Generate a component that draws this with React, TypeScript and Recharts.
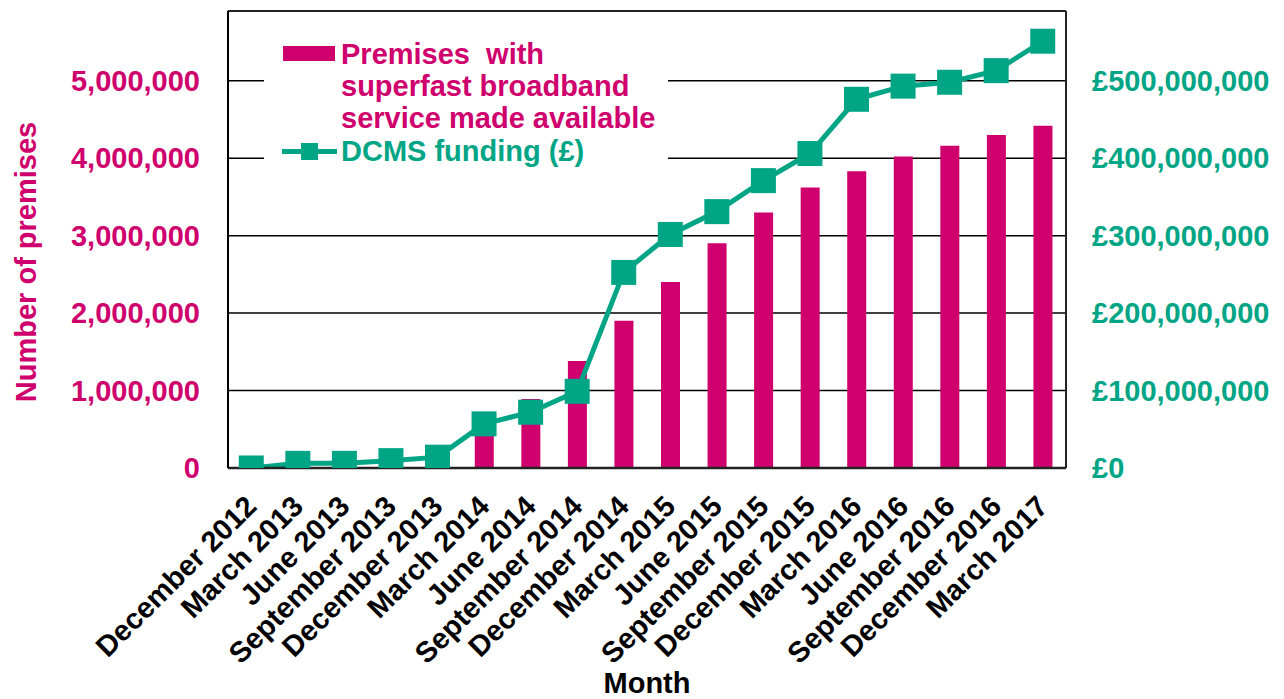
import React from 'react';
import {
  ComposedChart,
  Bar,
  Line,
  XAxis,
  YAxis,
  CartesianGrid,
  Legend,
  ReferenceLine,
} from 'recharts';

const months = [
  'December 2012',
  'March 2013',
  'June 2013',
  'September 2013',
  'December 2013',
  'March 2014',
  'June 2014',
  'September 2014',
  'December 2014',
  'March 2015',
  'June 2015',
  'September 2015',
  'December 2015',
  'March 2016',
  'June 2016',
  'September 2016',
  'December 2016',
  'March 2017',
];

const premises = [
  0, 0, 0, 40000, 150000, 550000, 890000, 1380000, 1900000, 2400000, 2900000,
  3300000, 3620000, 3830000, 4020000, 4160000, 4300000, 4420000,
];

const funding = [
  0, 6000000, 6000000, 9500000, 14000000, 57000000, 72000000, 99000000,
  252500000, 301500000, 331000000, 371000000, 406000000, 476000000, 493000000,
  498000000, 513000000, 551000000,
];

const leftTicks = [0, 1000000, 2000000, 3000000, 4000000, 5000000];
const rightTicks = [0, 100000000, 200000000, 300000000, 400000000, 500000000];

const MAGENTA = '#CF006E';
const GREEN = '#00A585';
const FONT = '"Liberation Sans", Arial, Helvetica, sans-serif';

const data = months.map((m, i) => ({
  month: m,
  premises: premises[i],
  funding: funding[i],
}));

const XTick = (props: any) => {
  const { x, y, payload } = props;
  const ax = x + 7;
  const ay = y + 40;
  return (
    <text
      x={ax}
      y={ay}
      transform={`rotate(-45 ${ax} ${ay})`}
      textAnchor="end"
      fill="#000"
      fontSize={29}
      fontWeight="bold"
      fontFamily={FONT}
    >
      {payload.value}
    </text>
  );
};

const SquareDot = (props: any) => {
  const { cx, cy, index } = props;
  if (cx == null || cy == null) return null;
  return (
    <rect
      key={`dot-${index}`}
      x={cx - 12.5}
      y={cy - 12.5}
      width={25}
      height={25}
      fill={GREEN}
    />
  );
};

const LegendBox = () => (
  <div
    style={{
      position: 'relative',
      width: 404,
      height: 142,
      background: '#fff',
      fontFamily: FONT,
      fontWeight: 'bold',
      fontSize: 29,
      lineHeight: '32px',
    }}
  >
    <div
      style={{
        position: 'absolute',
        left: 19,
        top: 16,
        width: 52,
        height: 15,
        background: MAGENTA,
      }}
    />
    <div
      style={{
        position: 'absolute',
        left: 77,
        top: 8,
        color: MAGENTA,
        whiteSpace: 'pre',
      }}
    >
      {'Premises  with\nsuperfast broadband\nservice made available'}
    </div>
    <div
      style={{
        position: 'absolute',
        left: 18,
        top: 119,
        width: 55,
        height: 5,
        background: GREEN,
      }}
    />
    <div
      style={{
        position: 'absolute',
        left: 37,
        top: 113,
        width: 17,
        height: 17,
        background: GREEN,
      }}
    />
    <div
      style={{
        position: 'absolute',
        left: 77,
        top: 105,
        color: GREEN,
        whiteSpace: 'pre',
      }}
    >
      {'DCMS funding (£)'}
    </div>
  </div>
);

const YLabel = () => (
  <text
    x={36}
    y={262}
    transform="rotate(-90 36 262)"
    textAnchor="middle"
    fill={MAGENTA}
    fontSize={29}
    fontWeight="bold"
    fontFamily={FONT}
  >
    Number of premises
  </text>
);

const XLabel = () => (
  <text
    x={647}
    y={693}
    textAnchor="middle"
    fill="#000"
    fontSize={29}
    fontWeight="bold"
    fontFamily={FONT}
  >
    Month
  </text>
);

export default function App() {
  return (
    <div style={{ position: 'absolute', left: 0, top: 0, background: '#fff' }}>
      <ComposedChart
        width={1284}
        height={699}
        data={data}
        margin={{ top: 11, right: 0, bottom: 0, left: 0 }}
      >
        <CartesianGrid
          yAxisId="left"
          vertical={false}
          stroke="#000"
          strokeWidth={1.5}
        />
        <XAxis
          dataKey="month"
          height={231}
          interval={0}
          tick={<XTick />}
          tickLine={false}
          tickSize={0}
          tickMargin={0}
          axisLine={{ stroke: '#222', strokeWidth: 2.5 }}
          label={() => <XLabel />}
        />
        <YAxis
          yAxisId="left"
          width={228}
          domain={[0, 5900000]}
          ticks={leftTicks}
          allowDataOverflow
          tickFormatter={(v: number) => v.toLocaleString('en-US')}
          tick={{ fill: MAGENTA, fontSize: 29, fontWeight: 'bold', fontFamily: FONT }}
          tickLine={false}
          tickSize={0}
          tickMargin={28}
          axisLine={{ stroke: '#000', strokeWidth: 2 }}
          label={() => <YLabel />}
        />
        <YAxis
          yAxisId="right"
          orientation="right"
          width={218}
          domain={[0, 590000000]}
          ticks={rightTicks}
          allowDataOverflow
          tickFormatter={(v: number) => '£' + v.toLocaleString('en-US')}
          tick={{ fill: GREEN, fontSize: 29, fontWeight: 'bold', fontFamily: FONT }}
          tickLine={false}
          tickSize={0}
          tickMargin={26}
          axisLine={{ stroke: '#222', strokeWidth: 2 }}
        />
        <ReferenceLine yAxisId="left" y={5900000} stroke="#222" strokeWidth={2} />
        <Bar
          yAxisId="left"
          dataKey="premises"
          fill={MAGENTA}
          barSize={19}
          isAnimationActive={false}
        />
        <Line
          yAxisId="right"
          dataKey="funding"
          type="linear"
          stroke={GREEN}
          strokeWidth={5}
          dot={<SquareDot />}
          activeDot={false}
          isAnimationActive={false}
        />
        <Legend
          layout="vertical"
          align="center"
          verticalAlign="middle"
          wrapperStyle={{ position: 'absolute', left: 264, top: 30, width: 404, height: 142 }}
          content={() => <LegendBox />}
        />
      </ComposedChart>
    </div>
  );
}
